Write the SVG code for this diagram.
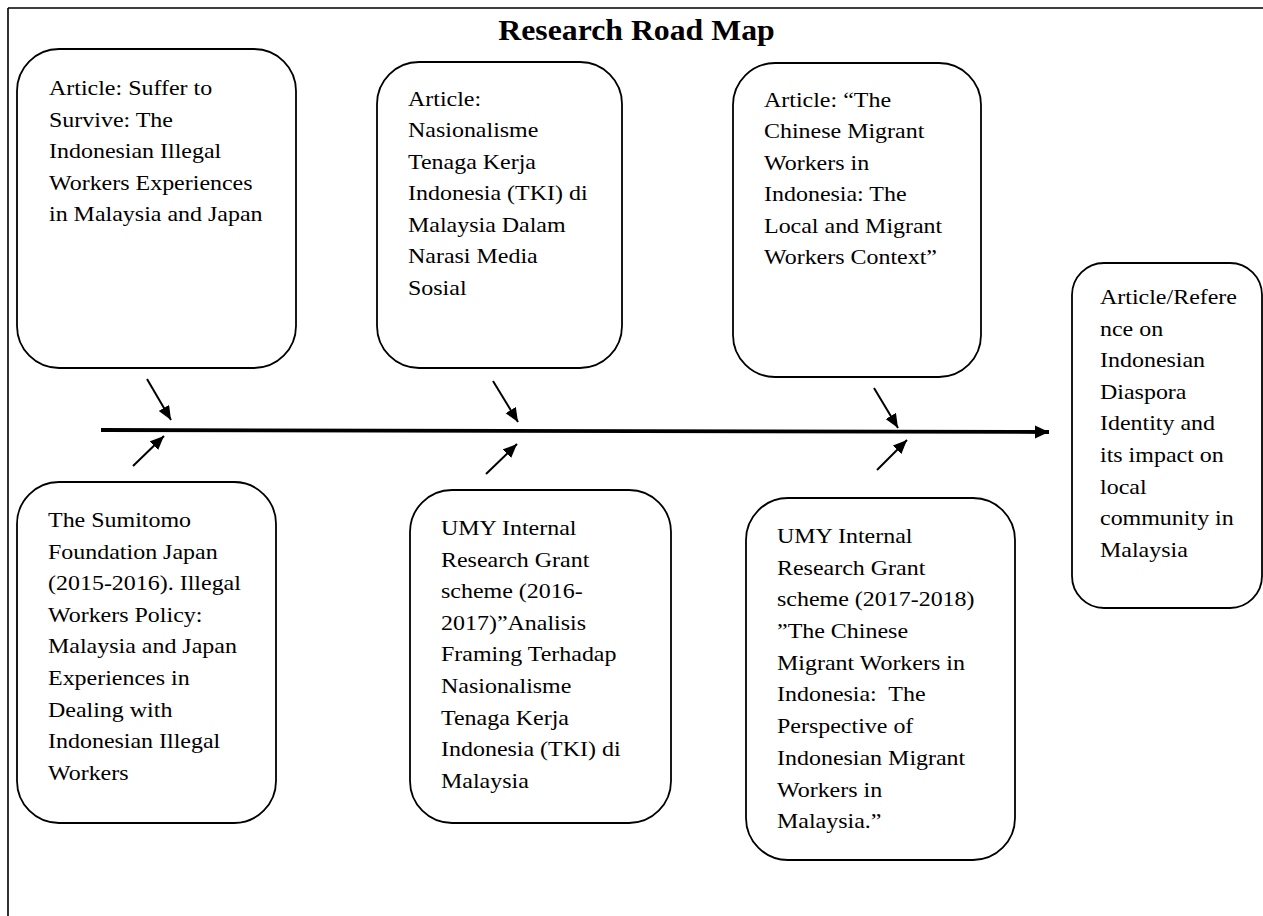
<svg xmlns="http://www.w3.org/2000/svg" width="1263" height="916" viewBox="0 0 1263 916">
<defs>
<style>
.box{fill:#fff;stroke:#000;stroke-width:1.8}
.t{font-family:"Liberation Serif","Times New Roman",serif;font-size:21.5px;fill:#000}
.title{font-family:"Liberation Serif","Times New Roman",serif;font-size:28.5px;font-weight:bold;fill:#000}
.frame{stroke:#000;stroke-width:1.6;fill:none}
.sa{stroke:#000;stroke-width:2;fill:none;marker-end:url(#ah)}
.main{stroke:#000;stroke-width:3.8;fill:none;marker-end:url(#mh)}
</style>
<marker id="ah" markerUnits="userSpaceOnUse" markerWidth="15" markerHeight="13" refX="14" refY="6" orient="auto">
<path d="M0,0 L14,6 L0,12 z" fill="#000"/>
</marker>
<marker id="mh" markerUnits="userSpaceOnUse" markerWidth="15" markerHeight="14" refX="14" refY="6.5" orient="auto">
<path d="M0,0 L14,6.5 L0,13 z" fill="#000"/>
</marker>
</defs>
<rect width="1263" height="916" fill="#fff"/>
<g id="frame">
<path class="frame" d="M8,8 L1263,8 M8,8 L8,916"/>
</g>
<g id="title">
<g transform="translate(636.5,0) scale(1.115,1)">
<text class="title" x="0" y="40" text-anchor="middle">Research Road Map</text>
</g>
</g>
<g id="connectors">
<path class="main" d="M101,430 L1049,432"/>
<path class="sa" d="M147,379 L171,420"/>
<path class="sa" d="M133,466 L164,436"/>
<path class="sa" d="M493,381 L518,422"/>
<path class="sa" d="M486,474 L517,444"/>
<path class="sa" d="M874,388 L898,428"/>
<path class="sa" d="M877,470 L907,440"/>
</g>
<g id="node1">
<rect class="box" x="17" y="49" width="279" height="319" rx="42" ry="42"/>
<g transform="translate(49,0) scale(1.115,1)">
<text class="t">
<tspan x="0" y="95.5">Article: Suffer to</tspan>
<tspan x="0" y="127">Survive: The</tspan>
<tspan x="0" y="158.5">Indonesian Illegal</tspan>
<tspan x="0" y="190">Workers Experiences</tspan>
<tspan x="0" y="221.5">in Malaysia and Japan</tspan>
</text>
</g>
</g>
<g id="node2">
<rect class="box" x="377" y="62" width="245" height="306" rx="42" ry="42"/>
<g transform="translate(408,0) scale(1.115,1)">
<text class="t">
<tspan x="0" y="106">Article:</tspan>
<tspan x="0" y="137.5">Nasionalisme</tspan>
<tspan x="0" y="169">Tenaga Kerja</tspan>
<tspan x="0" y="200.5">Indonesia (TKI) di</tspan>
<tspan x="0" y="232">Malaysia Dalam</tspan>
<tspan x="0" y="263.5">Narasi Media</tspan>
<tspan x="0" y="295">Sosial</tspan>
</text>
</g>
</g>
<g id="node3">
<rect class="box" x="733" y="63" width="248" height="314" rx="42" ry="42"/>
<g transform="translate(764,0) scale(1.115,1)">
<text class="t">
<tspan x="0" y="107">Article: “The</tspan>
<tspan x="0" y="138.5">Chinese Migrant</tspan>
<tspan x="0" y="170">Workers in</tspan>
<tspan x="0" y="201.5">Indonesia: The</tspan>
<tspan x="0" y="233">Local and Migrant</tspan>
<tspan x="0" y="264.5">Workers Context”</tspan>
</text>
</g>
</g>
<g id="node4">
<rect class="box" x="17" y="482" width="259" height="341" rx="42" ry="42"/>
<g transform="translate(48,0) scale(1.115,1)">
<text class="t">
<tspan x="0" y="527">The Sumitomo</tspan>
<tspan x="0" y="558.6">Foundation Japan</tspan>
<tspan x="0" y="590.2">(2015-2016). Illegal</tspan>
<tspan x="0" y="621.8">Workers Policy:</tspan>
<tspan x="0" y="653.4">Malaysia and Japan</tspan>
<tspan x="0" y="685">Experiences in</tspan>
<tspan x="0" y="716.6">Dealing with</tspan>
<tspan x="0" y="748.2">Indonesian Illegal</tspan>
<tspan x="0" y="779.8">Workers</tspan>
</text>
</g>
</g>
<g id="node5">
<rect class="box" x="410" y="490" width="261" height="333" rx="42" ry="42"/>
<g transform="translate(441,0) scale(1.115,1)">
<text class="t">
<tspan x="0" y="535">UMY Internal</tspan>
<tspan x="0" y="566.6">Research Grant</tspan>
<tspan x="0" y="598.2">scheme (2016-</tspan>
<tspan x="0" y="629.8">2017)”Analisis</tspan>
<tspan x="0" y="661.4">Framing Terhadap</tspan>
<tspan x="0" y="693">Nasionalisme</tspan>
<tspan x="0" y="724.6">Tenaga Kerja</tspan>
<tspan x="0" y="756.2">Indonesia (TKI) di</tspan>
<tspan x="0" y="787.8">Malaysia</tspan>
</text>
</g>
</g>
<g id="node6">
<rect class="box" x="746" y="498" width="269" height="362" rx="42" ry="42"/>
<g transform="translate(777,0) scale(1.115,1)">
<text class="t">
<tspan x="0" y="543">UMY Internal</tspan>
<tspan x="0" y="574.7">Research Grant</tspan>
<tspan x="0" y="606.4">scheme (2017-2018)</tspan>
<tspan x="0" y="638.1">”The Chinese</tspan>
<tspan x="0" y="669.8">Migrant Workers in</tspan>
<tspan x="0" y="701.5">Indonesia:&#160; The</tspan>
<tspan x="0" y="733.2">Perspective of</tspan>
<tspan x="0" y="764.9">Indonesian Migrant</tspan>
<tspan x="0" y="796.6">Workers in</tspan>
<tspan x="0" y="828.3">Malaysia.”</tspan>
</text>
</g>
</g>
<g id="node7">
<rect class="box" x="1072" y="263" width="190" height="345" rx="32" ry="32"/>
<g transform="translate(1100,0) scale(1.115,1)">
<text class="t">
<tspan x="0" y="304">Article/Refere</tspan>
<tspan x="0" y="335.6">nce on</tspan>
<tspan x="0" y="367.2">Indonesian</tspan>
<tspan x="0" y="398.8">Diaspora</tspan>
<tspan x="0" y="430.4">Identity and</tspan>
<tspan x="0" y="462">its impact on</tspan>
<tspan x="0" y="493.6">local</tspan>
<tspan x="0" y="525.2">community in</tspan>
<tspan x="0" y="556.8">Malaysia</tspan>
</text>
</g>
</g>
</svg>
